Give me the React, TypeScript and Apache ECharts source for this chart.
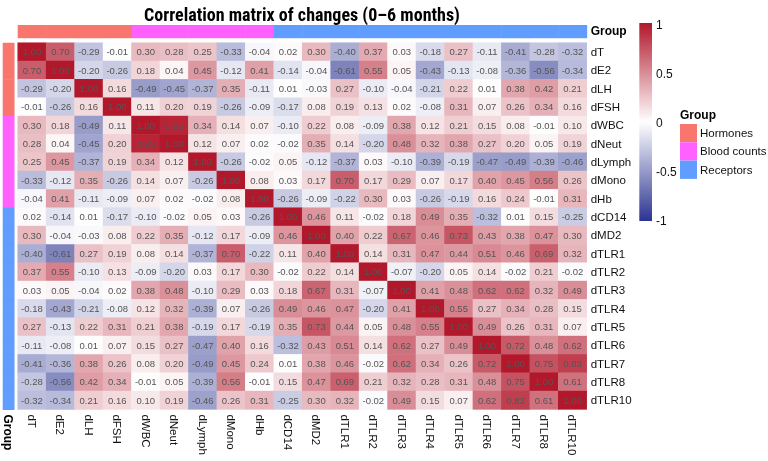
import React, { useEffect, useRef } from "react";
import * as echarts from "echarts";

const vars = ["dT", "dE2", "dLH", "dFSH", "dWBC", "dNeut", "dLymph", "dMono", "dHb", "dCD14", "dMD2", "dTLR1", "dTLR2", "dTLR3", "dTLR4", "dTLR5", "dTLR6", "dTLR7", "dTLR8", "dTLR10"];
const groupNames = ["Hormones", "Blood counts", "Receptors"];
const groupColors = ["#F8766D", "#FF61FF", "#619CFF"];
const varGroup = [0, 0, 0, 0, 1, 1, 1, 1, 1, 2, 2, 2, 2, 2, 2, 2, 2, 2, 2, 2];
const colorbarTicks = [1, 0.5, 0, -0.5, -1];

const corr: number[][] = [
  [1.00, 0.70, -0.29, -0.01, 0.30, 0.28, 0.25, -0.33, -0.04, 0.02, 0.30, -0.40, 0.37, 0.03, -0.18, 0.27, -0.11, -0.41, -0.28, -0.32],
  [0.70, 1.00, -0.20, -0.26, 0.18, 0.04, 0.45, -0.12, 0.41, -0.14, -0.04, -0.61, 0.55, 0.05, -0.43, -0.13, -0.08, -0.36, -0.56, -0.34],
  [-0.29, -0.20, 1.00, 0.16, -0.49, -0.45, -0.37, 0.35, -0.11, 0.01, -0.03, 0.27, -0.10, -0.04, -0.21, 0.22, 0.01, 0.38, 0.42, 0.21],
  [-0.01, -0.26, 0.16, 1.00, 0.11, 0.20, 0.19, -0.26, -0.09, -0.17, 0.08, 0.19, 0.13, 0.02, -0.08, 0.31, 0.07, 0.26, 0.34, 0.16],
  [0.30, 0.18, -0.49, 0.11, 1.00, 0.95, 0.34, 0.14, 0.07, -0.10, 0.22, 0.08, -0.09, 0.38, 0.12, 0.21, 0.15, 0.08, -0.01, 0.10],
  [0.28, 0.04, -0.45, 0.20, 0.95, 1.00, 0.12, 0.07, 0.02, -0.02, 0.35, 0.14, -0.20, 0.48, 0.32, 0.38, 0.27, 0.20, 0.05, 0.19],
  [0.25, 0.45, -0.37, 0.19, 0.34, 0.12, 1.00, -0.26, -0.02, 0.05, -0.12, -0.37, 0.03, -0.10, -0.39, -0.19, -0.47, -0.49, -0.39, -0.46],
  [-0.33, -0.12, 0.35, -0.26, 0.14, 0.07, -0.26, 1.00, 0.08, 0.03, 0.17, 0.70, 0.17, 0.29, 0.07, 0.17, 0.40, 0.45, 0.56, 0.26],
  [-0.04, 0.41, -0.11, -0.09, 0.07, 0.02, -0.02, 0.08, 1.00, -0.26, -0.09, -0.22, 0.30, 0.03, -0.26, -0.19, 0.16, 0.24, -0.01, 0.31],
  [0.02, -0.14, 0.01, -0.17, -0.10, -0.02, 0.05, 0.03, -0.26, 1.00, 0.46, 0.11, -0.02, 0.18, 0.49, 0.35, -0.32, 0.01, 0.15, -0.25],
  [0.30, -0.04, -0.03, 0.08, 0.22, 0.35, -0.12, 0.17, -0.09, 0.46, 1.00, 0.40, 0.22, 0.67, 0.46, 0.73, 0.43, 0.38, 0.47, 0.30],
  [-0.40, -0.61, 0.27, 0.19, 0.08, 0.14, -0.37, 0.70, -0.22, 0.11, 0.40, 1.00, 0.14, 0.31, 0.47, 0.44, 0.51, 0.46, 0.69, 0.32],
  [0.37, 0.55, -0.10, 0.13, -0.09, -0.20, 0.03, 0.17, 0.30, -0.02, 0.22, 0.14, 1.00, -0.07, -0.20, 0.05, 0.14, -0.02, 0.21, -0.02],
  [0.03, 0.05, -0.04, 0.02, 0.38, 0.48, -0.10, 0.29, 0.03, 0.18, 0.67, 0.31, -0.07, 1.00, 0.41, 0.48, 0.62, 0.62, 0.32, 0.49],
  [-0.18, -0.43, -0.21, -0.08, 0.12, 0.32, -0.39, 0.07, -0.26, 0.49, 0.46, 0.47, -0.20, 0.41, 1.00, 0.55, 0.27, 0.34, 0.28, 0.15],
  [0.27, -0.13, 0.22, 0.31, 0.21, 0.38, -0.19, 0.17, -0.19, 0.35, 0.73, 0.44, 0.05, 0.48, 0.55, 1.00, 0.49, 0.26, 0.31, 0.07],
  [-0.11, -0.08, 0.01, 0.07, 0.15, 0.27, -0.47, 0.40, 0.16, -0.32, 0.43, 0.51, 0.14, 0.62, 0.27, 0.49, 1.00, 0.72, 0.48, 0.62],
  [-0.41, -0.36, 0.38, 0.26, 0.08, 0.20, -0.49, 0.45, 0.24, 0.01, 0.38, 0.46, -0.02, 0.62, 0.34, 0.26, 0.72, 1.00, 0.75, 0.83],
  [-0.28, -0.56, 0.42, 0.34, -0.01, 0.05, -0.39, 0.56, -0.01, 0.15, 0.47, 0.69, 0.21, 0.32, 0.28, 0.31, 0.48, 0.75, 1.00, 0.61],
  [-0.32, -0.34, 0.21, 0.16, 0.10, 0.19, -0.46, 0.26, 0.31, -0.25, 0.30, 0.32, -0.02, 0.49, 0.15, 0.07, 0.62, 0.83, 0.61, 1.00],
];

const LOW = "#2b3491";
const MID = "#ffffff";
const HIGH = "#b2182b";
const FONT = "'Liberation Sans', Arial, sans-serif";

export default function App() {
  const ref = useRef<HTMLDivElement>(null);
  useEffect(() => {
    if (!ref.current) return;
    const chart = echarts.init(ref.current, undefined, { renderer: "svg" });

    const heatData: number[][] = [];
    corr.forEach((row, r) => row.forEach((v, c) => heatData.push([c, r, v])));
    const topData = vars.map((_, i) => [i, 0, varGroup[i]]);
    const leftData = vars.map((_, i) => [0, i, varGroup[i]]);

    const rectItem = (params: any, api: any) => {
      const p = api.coord([api.value(0), api.value(1)]);
      const s = api.size([1, 1]);
      return {
        type: "rect",
        shape: { x: p[0] - s[0] / 2, y: p[1] - s[1] / 2, width: s[0] + 0.5, height: s[1] + 0.5 },
        style: { fill: groupColors[api.value(2)] },
      };
    };

    const L = 17.7, T = 42.7, W = 569, H = 366.7;
    const cbX = 639.3, cbY = 23, cbW = 12.7, cbH = 198;

    const graphics: any[] = [
      {
        type: "text",
        x: 302,
        y: 14,
        style: {
          text: "Correlation matrix of changes (0\u20136 months)",
          align: "center",
          verticalAlign: "middle",
          fontSize: 18,
          fontWeight: "bold",
          fontFamily: "'Liberation Sans Narrow', 'Arial Narrow', 'Roboto Condensed', sans-serif",
          fill: "#000",
        },
      },
      {
        type: "rect",
        shape: { x: cbX, y: cbY, width: cbW, height: cbH },
        style: {
          fill: new echarts.graphic.LinearGradient(0, 0, 0, 1, [
            { offset: 0, color: HIGH },
            { offset: 0.5, color: MID },
            { offset: 1, color: LOW },
          ]),
        },
      },
      ...colorbarTicks.map((t) => ({
        type: "text",
        x: 656,
        y: cbY + 2 + ((1 - t) / 2) * (cbH - 2),
        style: { text: String(t), align: "left", verticalAlign: "middle", fontSize: 12, fontFamily: FONT, fill: "#111" },
      })),
      {
        type: "text",
        x: 680,
        y: 115,
        style: { text: "Group", align: "left", verticalAlign: "middle", fontSize: 12, fontWeight: "bold", fontFamily: FONT, fill: "#000" },
      },
      ...groupNames.flatMap((g, i) => [
        { type: "rect", shape: { x: 680, y: 124 + i * 18.3, width: 17, height: 18.3 }, style: { fill: groupColors[i] } },
        {
          type: "text",
          x: 700,
          y: 133 + i * 18.3,
          style: { text: g, align: "left", verticalAlign: "middle", fontSize: 11.5, fontFamily: FONT, fill: "#111" },
        },
      ]),
    ];

    chart.setOption({
      animation: false,
      textStyle: { fontFamily: FONT },
      grid: [
        { left: L, top: T, width: W, height: H },
        { left: L, top: 25, width: W, height: 12.7 },
        { left: 2.7, top: T, width: 11.3, height: H },
      ],
      xAxis: [
        {
          type: "category", gridIndex: 0, data: vars, position: "bottom",
          axisLine: { show: false }, axisTick: { show: false }, splitLine: { show: false },
          axisLabel: { rotate: -90, margin: 5, fontSize: 11.5, color: "#111", fontFamily: FONT, interval: 0 },
        },
        {
          type: "category", gridIndex: 1, data: vars, show: false,
        },
        {
          type: "category", gridIndex: 2, data: ["Group"], position: "bottom",
          axisLine: { show: false }, axisTick: { show: false },
          axisLabel: { rotate: -90, margin: 5, fontSize: 12, fontWeight: "bold", color: "#000", fontFamily: FONT },
        },
      ],
      yAxis: [
        {
          type: "category", gridIndex: 0, data: vars, inverse: true, position: "right",
          axisLine: { show: false }, axisTick: { show: false }, splitLine: { show: false },
          axisLabel: { margin: 4, fontSize: 11.5, color: "#111", fontFamily: FONT, interval: 0 },
        },
        {
          type: "category", gridIndex: 1, data: ["Group"], position: "right",
          axisLine: { show: false }, axisTick: { show: false },
          axisLabel: { margin: 4, fontSize: 12, fontWeight: "bold", color: "#000", fontFamily: FONT },
        },
        {
          type: "category", gridIndex: 2, data: vars, inverse: true, show: false,
        },
      ],
      visualMap: {
        show: false,
        type: "continuous",
        min: -1,
        max: 1,
        seriesIndex: 0,
        inRange: { color: [LOW, MID, HIGH] },
      },
      series: [
        {
          type: "heatmap",
          xAxisIndex: 0,
          yAxisIndex: 0,
          data: heatData,
          label: {
            show: true,
            formatter: (p: any) => p.value[2].toFixed(2),
            fontSize: 9.5,
            color: "#555",
            fontFamily: FONT,
          },
          itemStyle: { borderWidth: 0 },
        },
        { type: "custom", xAxisIndex: 1, yAxisIndex: 1, data: topData, renderItem: rectItem },
        { type: "custom", xAxisIndex: 2, yAxisIndex: 2, data: leftData, renderItem: rectItem },
      ],
      graphic: graphics,
    });
    return () => chart.dispose();
  }, []);
  return <div ref={ref} style={{ position: "fixed", left: 0, top: 0, width: 768, height: 461 }} />;
}
